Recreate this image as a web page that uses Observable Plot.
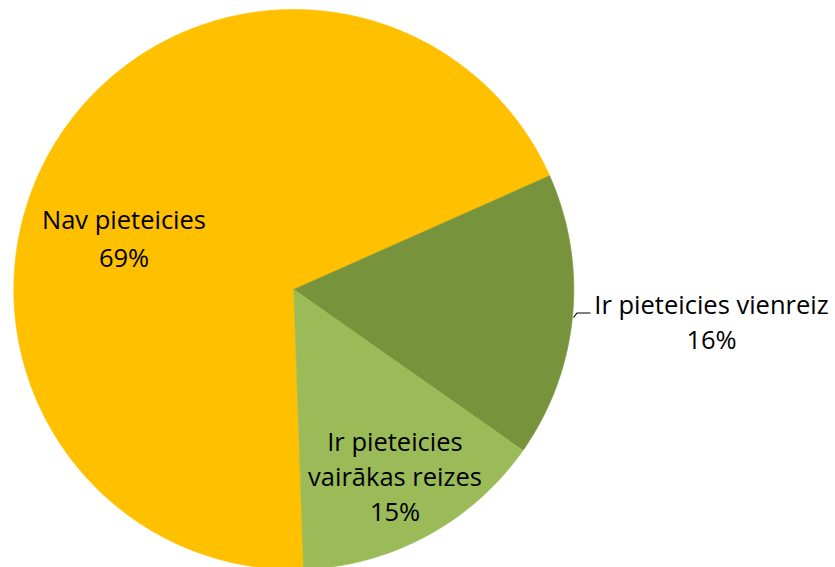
<!DOCTYPE html>
<html><head><meta charset="utf-8">
<script src="https://cdn.jsdelivr.net/npm/d3@7"></script>
<script src="https://cdn.jsdelivr.net/npm/@observablehq/plot@0.6"></script>
<style>body{margin:0;background:#fff;overflow:hidden}#chart svg{display:block}</style>
</head><body><div id="chart"></div>
<script>
// ---- data ----
const categories = ["Nav pieteicies", "Ir pieteicies vienreiz", "Ir pieteicies vairākas reizes"];
const values = [68.9, 16.4, 14.7];
const percentLabels = ["69%", "16%", "15%"];
const colors = ["#FFC000", "#77933C", "#9BBB59"];

// ---- layout ----
const W = 835, H = 567;
const cx = 293.3, cy = 289, R = 280;      // pie centre / radius in pixels
const startDeg = 178;                      // first slice angle (clockwise from 12 o'clock)
const toUx = px => (px - cx) / R;
const toUy = py => (cy - py) / R;

const pie = d3.pie().sort(null).value(d => d.value)
  .startAngle(startDeg * Math.PI / 180)
  .endAngle(startDeg * Math.PI / 180 + 2 * Math.PI);
const arcs = pie(categories.map((c, i) => ({category: c, value: values[i]})));

const pts = [];
arcs.forEach(a => {
  const cat = a.data.category;
  pts.push({cat, x: 0, y: 0});
  const n = Math.max(2, Math.ceil((a.endAngle - a.startAngle) / (Math.PI / 360)));
  for (let k = 0; k <= n; k++) {
    const t = a.startAngle + (a.endAngle - a.startAngle) * k / n;
    pts.push({cat, x: Math.sin(t), y: Math.cos(t)});
  }
  pts.push({cat, x: 0, y: 0});
});

// label placement (pixels): centre x, first baseline, line spacing, line breaks
const labelLayout = [
  {lines: ["Nav pieteicies"], x: 123.5, y: 228, dy: 38},
  {lines: ["Ir pieteicies vienreiz"], x: 711, y: 313, dy: 35},
  {lines: ["Ir pieteicies", "vairākas reizes"], x: 394.5, y: 450, dy: 35}
];
const texts = [];
labelLayout.forEach((L, i) => {
  const all = [...L.lines, percentLabels[i]];
  all.forEach((t, j) => texts.push({t, x: toUx(L.x), y: toUy(L.y + j * L.dy)}));
});

const leader = [[573, 317], [576.5, 312.5], [590, 312.5]].map(([px, py]) => ({x: toUx(px), y: toUy(py)}));

const font = "'Open Sans', Lato, sans-serif";
const chart = Plot.plot({
  width: W, height: H,
  margin: 0,
  x: {domain: [toUx(0), toUx(W)], axis: null},
  y: {domain: [toUy(H), toUy(0)], axis: null},
  color: {domain: categories, range: colors},
  style: {background: "#fff", fontFamily: font},
  marks: [
    Plot.line(pts, {x: "x", y: "y", z: "cat", fill: "cat", stroke: "cat", strokeWidth: 0.6, curve: "linear"}),
    Plot.line(leader, {x: "x", y: "y", stroke: "#000", strokeWidth: 1.2, strokeLinecap: "butt", strokeLinejoin: "miter"}),
    Plot.text(texts, {x: "x", y: "y", text: "t", lineAnchor: "bottom", textAnchor: "middle",
      fontSize: 25.5, fill: "#000", fontFamily: font})
  ]
});
document.getElementById("chart").appendChild(chart);
</script>
</body></html>
